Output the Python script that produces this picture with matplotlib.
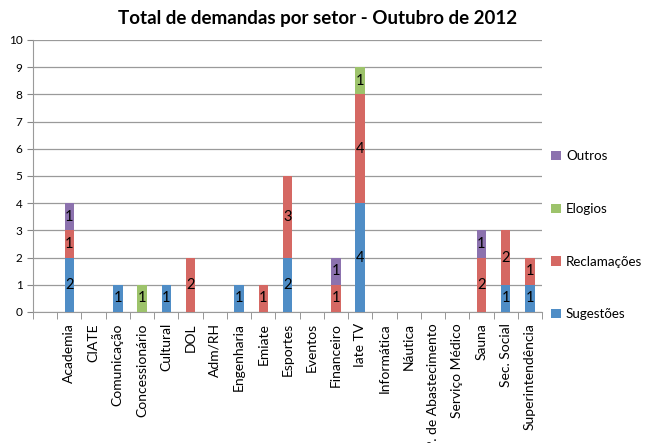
import numpy as np
import matplotlib.pyplot as plt

plt.rcParams['font.family'] = ['Lato', 'DejaVu Sans']

setores = ['Academia', 'CIATE', 'Comunicação', 'Concessionário', 'Cultural', 'DOL',
           'Adm/RH', 'Engenharia', 'Emiate', 'Esportes', 'Eventos', 'Financeiro',
           'Iate TV', 'Informática', 'Náutica', 'P. de Abastecimento', 'Serviço Médico',
           'Sauna', 'Sec. Social', 'Superintendência']
sugestoes = [2, 0, 1, 0, 1, 0, 0, 1, 0, 2, 0, 0, 4, 0, 0, 0, 0, 0, 1, 1]
reclamacoes = [1, 0, 0, 0, 0, 2, 0, 0, 1, 3, 0, 1, 4, 0, 0, 0, 0, 2, 2, 1]
elogios = [0, 0, 0, 1, 0, 0, 0, 0, 0, 0, 0, 0, 1, 0, 0, 0, 0, 0, 0, 0]
outros = [1, 0, 0, 0, 0, 0, 0, 0, 0, 0, 0, 1, 0, 0, 0, 0, 0, 1, 0, 0]

series = [('Sugestões', sugestoes, '#4F8DC6'),
          ('Reclamações', reclamacoes, '#D56863'),
          ('Elogios', elogios, '#9DC36B'),
          ('Outros', outros, '#8C72AE')]

fig = plt.figure(figsize=(6.46, 4.43), dpi=100)
ax = fig.add_axes([33 / 646, 1 - 312 / 443, 509 / 646, 272 / 443])

x = np.arange(len(setores))
bottom = np.zeros(len(setores))
handles = []
for name, vals, color in series:
    vals = np.array(vals, dtype=float)
    bars = ax.bar(x, vals, width=0.39, bottom=bottom, color=color, label=name, zorder=3)
    handles.append(bars)
    for xi, v, b in zip(x, vals, bottom):
        if v > 0:
            ax.text(xi, b + v / 2, f'{int(v)}', ha='center', va='center',
                    fontsize=10.5, zorder=4)
    bottom += vals

# the source chart keeps one empty slot before the first sector
ax.set_xlim(-1.5, len(setores) - 0.5)
ax.set_ylim(0, 10)
ax.set_yticks(range(0, 11))
ax.tick_params(axis='y', labelsize=8.5, length=4, color='#868686')
ax.grid(axis='y', color='#9a9a9a', linewidth=0.9, zorder=0)

ax.set_xticks(x)
ax.set_xticklabels(setores, rotation=90, fontsize=10)
ax.tick_params(axis='x', length=0, pad=8)
ax.set_xticks(np.arange(-1.5, len(setores)), minor=True)
ax.tick_params(axis='x', which='minor', length=5, color='#868686')

for s in ['top', 'right']:
    ax.spines[s].set_visible(False)
for s in ['left', 'bottom']:
    ax.spines[s].set_color('#9a9a9a')

fig.text(0.491, 0.958, 'Total de demandas por setor - Outubro de 2012', fontsize=13.5,
         fontweight='bold', ha='center', va='center')

leg = fig.legend(handles[::-1], [s[0] for s in series][::-1], loc='upper left',
                 bbox_to_anchor=(546 / 646, 1 - 145 / 443), frameon=False,
                 fontsize=9.6, labelspacing=3.05, handlelength=0.7, handleheight=0.7,
                 handletextpad=0.4, borderaxespad=0)

fig.savefig('out.png', dpi=100)
